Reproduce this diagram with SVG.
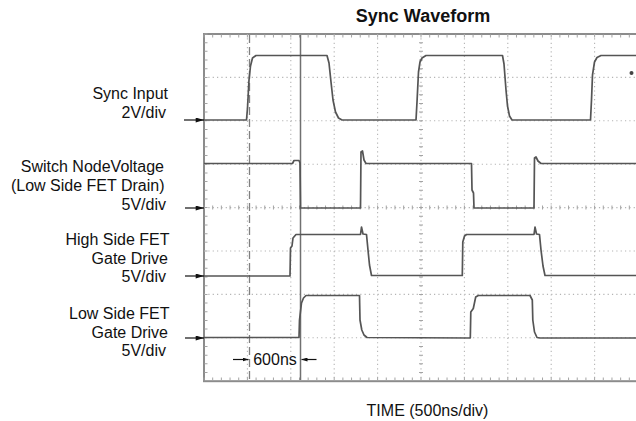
<svg xmlns="http://www.w3.org/2000/svg" width="636" height="421" viewBox="0 0 636 421">
  <defs>
    <style>
      .lbl { font-family: "Liberation Sans", Arial, sans-serif; font-size: 16px; fill: #111; }
      .title { font-family: "Liberation Sans", Arial, sans-serif; font-size: 18px; font-weight: bold; fill: #111; }
      .grid { stroke: #b4b4b4; stroke-width: 1.1; stroke-dasharray: 1.2 3.14; fill: none; }
      .tick { stroke: #a4a4a4; stroke-dasharray: 1 7.68; fill: none; }
      .frame { stroke: #8c8c8c; stroke-width: 2; fill: #fff; }
      .wave { stroke: #555; stroke-width: 1.7; fill: none; stroke-linejoin: round; }
      .ptr { stroke: #111; stroke-width: 1.2; fill: none; }
    </style>
    <marker id="ah" viewBox="0 0 10 6" refX="10" refY="3" markerWidth="10" markerHeight="5" markerUnits="userSpaceOnUse" orient="auto">
      <path d="M0,0 L10,3 L0,6 Z" fill="#111"/>
    </marker>
    <marker id="ahs" viewBox="0 0 6 4" refX="6" refY="2" markerWidth="6" markerHeight="4" markerUnits="userSpaceOnUse" orient="auto">
      <path d="M0,0 L6,2 L0,4 Z" fill="#111"/>
    </marker>
  </defs>

  <text class="title" x="423" y="22" text-anchor="middle">Sync Waveform</text>

  <g id="scope">
    <rect class="frame" x="204" y="34" width="440" height="347.2"/>
    <g id="grid">
      <line class="grid" x1="247.4" y1="34" x2="247.4" y2="381"/>
      <line class="grid" x1="290.8" y1="34" x2="290.8" y2="381"/>
      <line class="grid" x1="334.2" y1="34" x2="334.2" y2="381"/>
      <line class="grid" x1="377.6" y1="34" x2="377.6" y2="381"/>
      <line class="grid" x1="421" y1="34" x2="421" y2="381"/>
      <line class="grid" x1="464.4" y1="34" x2="464.4" y2="381"/>
      <line class="grid" x1="507.8" y1="34" x2="507.8" y2="381"/>
      <line class="grid" x1="551.2" y1="34" x2="551.2" y2="381"/>
      <line class="grid" x1="594.6" y1="34" x2="594.6" y2="381"/>
      <line class="grid" x1="204" y1="77.4" x2="636" y2="77.4"/>
      <line class="grid" x1="204" y1="120.8" x2="636" y2="120.8"/>
      <line class="grid" x1="204" y1="164.2" x2="636" y2="164.2"/>
      <line class="grid" x1="204" y1="207.6" x2="636" y2="207.6"/>
      <line class="grid" x1="204" y1="251" x2="636" y2="251"/>
      <line class="grid" x1="204" y1="294.4" x2="636" y2="294.4"/>
      <line class="grid" x1="204" y1="337.8" x2="636" y2="337.8"/>
      <line class="tick" x1="421" y1="33.5" x2="421" y2="381" stroke-width="4"/>
      <line class="tick" x1="203.5" y1="207.6" x2="636" y2="207.6" stroke-width="4"/>
      <line class="tick" x1="203.5" y1="36" x2="636" y2="36" stroke-width="3"/>
      <line class="tick" x1="203.5" y1="379" x2="636" y2="379" stroke-width="3"/>
      <line class="tick" x1="206" y1="33.5" x2="206" y2="381" stroke-width="3"/>
    </g>
    <g id="cursors">
      <line x1="249.5" y1="35" x2="249.5" y2="380" stroke="#808080" stroke-width="1.3" stroke-dasharray="8 4"/>
      <line x1="300.5" y1="35" x2="300.5" y2="380" stroke="#707070" stroke-width="1.5"/>
    </g>
    <g id="traces">
      <path id="sync" class="wave" d="M204,120 L246.5,120 L247.5,108 L249,80 L250.5,66 L252.5,58 L256,55.5 L327,55.5 L329,63 L331,82 L333,100 L335.5,112 L338.5,118 L342,120 L416,120 L417,102 L418.5,72 L420,62 L422,58 L426,55.5 L502.5,55.5 L504,64 L506,90 L507.5,106 L509.5,116 L512,120 L590.5,120 L591.5,100 L592.5,75 L594.5,62 L597,57.5 L601,55.5 L636,55.5"/>
      <circle cx="631.5" cy="73" r="2" fill="#444"/>
      <path id="switch" class="wave" d="M204,163.5 L292.5,163.5 L294,160.5 L299,160.5 L300,163 L300.5,208 L360.5,208 L361,152 L362.5,151 L364,160 L366,163.5 L471.5,163.5 L472,190 L473.5,193 L474,208 L534,208 L534.5,158 L536,157 L538,161 L541,163.5 L636,163.5"/>
      <path id="high" class="wave" d="M204,276 L290,276 L290.5,248 L292,246 L293,238 L296,234.5 L360.5,234.5 L361.5,227 L363,234 L366.5,234.5 L368,250 L369.5,265 L371.5,275.5 L462.3,275.5 L462.8,242 L464.5,236 L466.5,234.5 L534,234.5 L535,227 L536.5,234 L539.5,234.5 L541,250 L543,266 L545,275.5 L636,275.5"/>
      <path id="low" class="wave" d="M204,337.5 L299,337.5 L299.5,320 L301.5,303 L303.5,298 L306,295.5 L359.5,295.5 L360,320 L361.8,330 L364,335 L367,337.5 L470.3,338 L470.8,312 L473.3,308.5 L475.7,297 L478.3,295.5 L530,295.5 L532.3,300 L532.8,320 L534.5,332 L537,337.5 L540,338 L636,338"/>
    </g>
  </g>

  <g id="labels">
    <g id="sync-label">
      <text class="lbl" x="168" y="99" text-anchor="end">Sync Input</text>
      <text class="lbl" x="166" y="117.5" text-anchor="end">2V/div</text>
      <line class="ptr" x1="184" y1="120" x2="204" y2="120" marker-end="url(#ah)"/>
    </g>
    <g id="switch-label">
      <text class="lbl" x="164" y="171.5" text-anchor="end">Switch NodeVoltage</text>
      <text class="lbl" x="164.5" y="190.5" text-anchor="end">(Low Side FET Drain)</text>
      <text class="lbl" x="166" y="210" text-anchor="end">5V/div</text>
      <line class="ptr" x1="185" y1="208" x2="204" y2="208" marker-end="url(#ah)"/>
    </g>
    <g id="high-label">
      <text class="lbl" x="169.5" y="245" text-anchor="end">High Side FET</text>
      <text class="lbl" x="168" y="263.5" text-anchor="end">Gate Drive</text>
      <text class="lbl" x="166" y="282" text-anchor="end">5V/div</text>
      <line class="ptr" x1="185" y1="276" x2="204" y2="276" marker-end="url(#ah)"/>
    </g>
    <g id="low-label">
      <text class="lbl" x="169.5" y="318.5" text-anchor="end">Low Side FET</text>
      <text class="lbl" x="168" y="337.5" text-anchor="end">Gate Drive</text>
      <text class="lbl" x="166" y="356" text-anchor="end">5V/div</text>
      <line class="ptr" x1="185" y1="338" x2="204" y2="338" marker-end="url(#ah)"/>
    </g>
  </g>

  <g id="connectors">
    <line class="ptr" x1="233" y1="359.5" x2="248.5" y2="359.5" marker-end="url(#ahs)"/>
    <line class="ptr" x1="316.5" y1="359.5" x2="301.5" y2="359.5" marker-end="url(#ahs)"/>
  </g>
  <text class="lbl" x="275" y="365" text-anchor="middle">600ns</text>
  <text class="lbl" x="427.5" y="416" text-anchor="middle">TIME (500ns/div)</text>
</svg>
